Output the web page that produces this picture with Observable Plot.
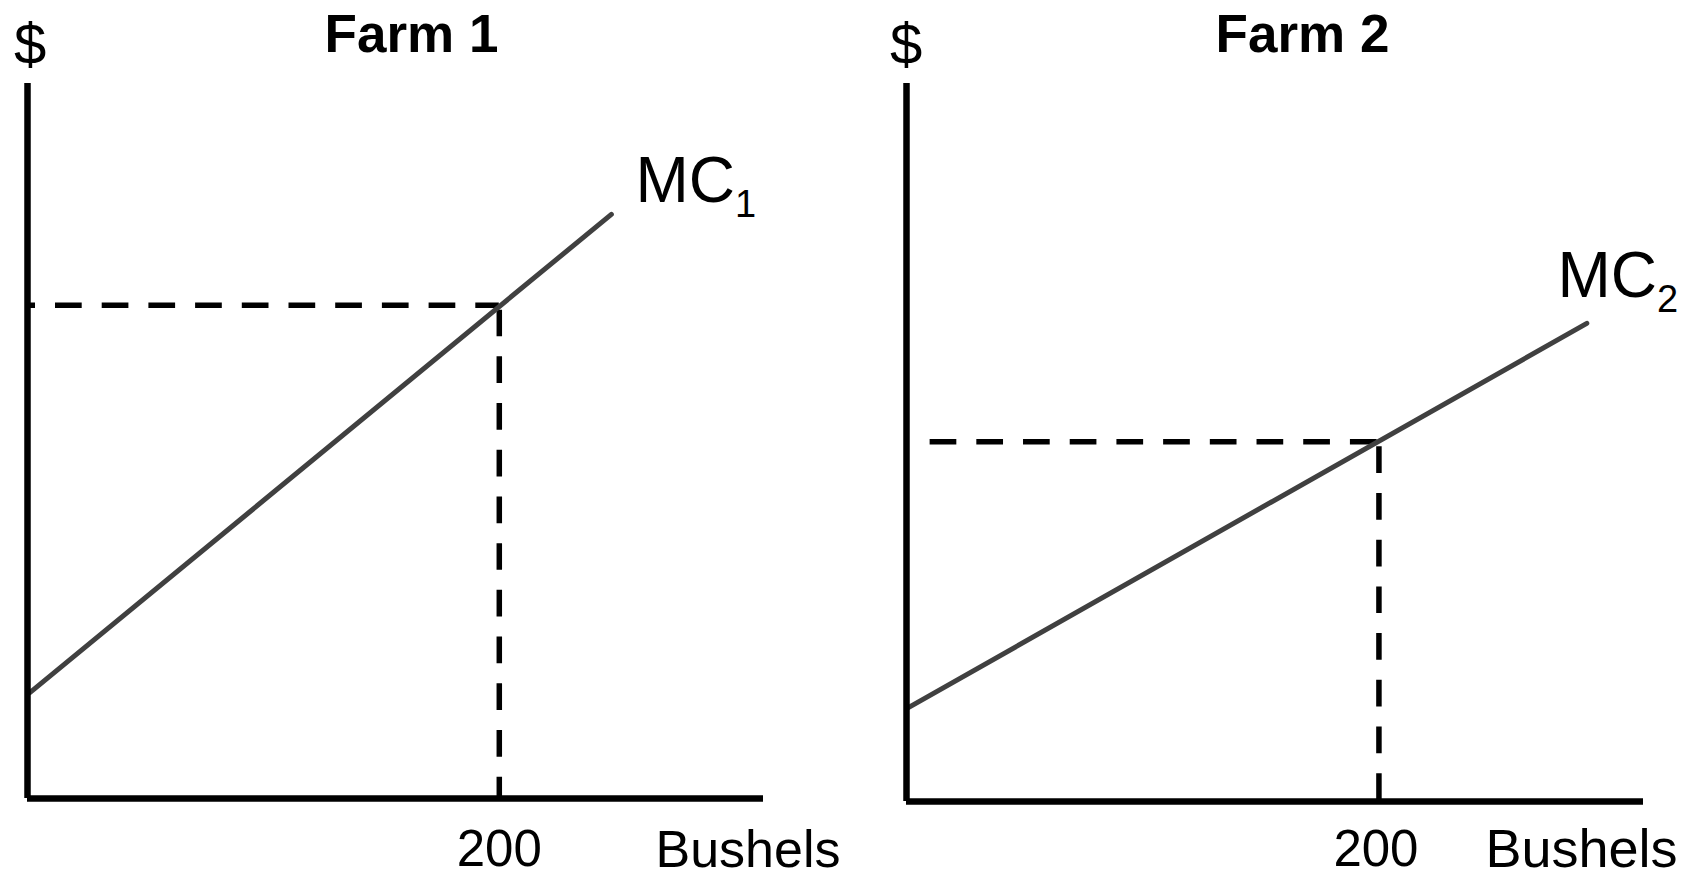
<!DOCTYPE html>
<html>
<head>
<meta charset="utf-8">
<script src="https://cdn.jsdelivr.net/npm/d3@7"></script>
<script src="https://cdn.jsdelivr.net/npm/@observablehq/plot@0.6"></script>
<style>
  html, body { margin: 0; padding: 0; background: #ffffff; }
  #chart { position: relative; width: 1697px; height: 869px; overflow: hidden; background: #ffffff; }
  #chart > svg { position: absolute; top: 0; }
</style>
</head>
<body>
<div id="chart"></div>
<script>
// ---- Data ----
const farms = ["Farm 1", "Farm 2"];
const mcSubscripts = ["1", "2"];
const mcQuantity = [[1, 247.5], [0.4, 288]];   // bushels at start / end of each MC line
const mcCost = [[14.8, 81.7], [13.0, 66.6]];    // $ at start / end of each MC line
const outputQ = [200, 200];                     // chosen output
const priceAtQ = [69.0, 50.1];                  // MC at 200 bushels
const priceLineFrom = [0, 10];                  // where the dashed price line starts
const xTicks = [200];
const xLabel = "Bushels";
const yLabel = "$";
const xMax = 312;
const yMax = 100;

// ---- Layout (per panel) ----
const FONT = "'Liberation Sans', Arial, Helvetica, sans-serif";
const layouts = [
  { left: 0, width: 848, mL: 27, mR: 85, mT: 83, mB: 71,
    titleDx: 16, dollarDx: 2.5, mcAt: [257.7, 83.4], dashOffsetH: 18.7,
    tickDx: 0, tickDy: 67, tickSize: 51, xLabelDx: -108, xLabelDy: 68, xLabelSize: 52 },
  { left: 848, width: 849, mL: 58, mR: 54, mT: 83, mB: 68,
    titleDx: 27.5, dollarDx: -0.5, mcAt: [275.6, 70.2], dashOffsetH: 0,
    tickDx: -3, tickDy: 64, tickSize: 51, xLabelDx: -158, xLabelDy: 65, xLabelSize: 54 }
];

const chart = document.getElementById("chart");

farms.forEach((farm, i) => {
  const L = layouts[i];
  const mc = mcQuantity[i].map((q, k) => ({q, p: mcCost[i][k]}));
  const dash = {stroke: "#000", strokeWidth: 5.5, strokeDasharray: "26.7,20"};
  const svg = Plot.plot({
    width: L.width,
    height: 869,
    marginLeft: L.mL,
    marginRight: L.mR,
    marginTop: L.mT,
    marginBottom: L.mB,
    x: {domain: [0, xMax], axis: null},
    y: {domain: [0, yMax], axis: null},
    style: {fontFamily: FONT, background: "transparent", overflow: "visible", color: "#000"},
    marks: [
      Plot.ruleY([priceAtQ[i]], {x1: priceLineFrom[i], x2: outputQ[i], ...dash, strokeDashoffset: L.dashOffsetH}),
      Plot.ruleX([outputQ[i]], {y1: priceAtQ[i], y2: 0, ...dash, strokeDashoffset: -5}),
      Plot.line(mc, {x: "q", y: "p", stroke: "#404040", strokeWidth: 5}),
      Plot.ruleX([0], {y1: 0, y2: yMax, stroke: "#000", strokeWidth: 6.5}),
      Plot.ruleY([0], {x1: 0, x2: xMax, stroke: "#000", strokeWidth: 6.5}),
      Plot.text([yLabel], {text: d => d, frameAnchor: "top-left", textAnchor: "middle", lineAnchor: "bottom",
        dx: L.dollarDx, dy: -20, fontSize: 58, fill: "#000"}),
      Plot.text([farm], {text: d => d, frameAnchor: "top", textAnchor: "middle", lineAnchor: "bottom",
        dx: L.titleDx, dy: -32, fontSize: 53, fontWeight: "bold", fill: "#000"}),
      Plot.text(["MC"], {text: d => d, x: L.mcAt[0], y: L.mcAt[1], textAnchor: "start", lineAnchor: "bottom",
        fontSize: 64, fill: "#000"}),
      Plot.text([mcSubscripts[i]], {text: d => d, x: L.mcAt[0], y: L.mcAt[1], textAnchor: "start", lineAnchor: "bottom",
        dx: 99.5, dy: 15, fontSize: 38, fill: "#000"}),
      Plot.text(xTicks, {x: d => d, text: d => String(d), frameAnchor: "bottom", textAnchor: "middle", lineAnchor: "bottom",
        dx: L.tickDx, dy: L.tickDy, fontSize: L.tickSize, fill: "#000"}),
      Plot.text([xLabel], {text: d => d, frameAnchor: "bottom-right", textAnchor: "start", lineAnchor: "bottom",
        dx: L.xLabelDx, dy: L.xLabelDy, fontSize: L.xLabelSize, fill: "#000"})
    ]
  });
  svg.style.left = L.left + "px";
  chart.appendChild(svg);
});
</script>
</body>
</html>
